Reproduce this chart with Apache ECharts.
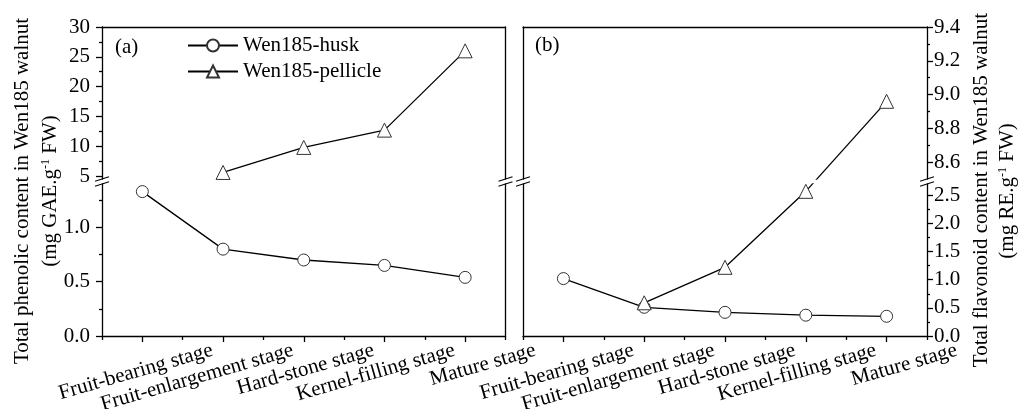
<!DOCTYPE html>
<html><head><meta charset="utf-8">
<script src="https://cdn.jsdelivr.net/npm/echarts@6/dist/echarts.min.js"></script>
<style>html,body{margin:0;padding:0;background:#fff}#c{width:1019px;height:409px}</style>
</head><body><div id="c"></div>
<script>
// ---------------- data ----------------
const stages = ['Fruit-bearing stage', 'Fruit-enlargement stage', 'Hard-stone stage', 'Kernel-filling stage', 'Mature stage'];
const seriesNames = ['Wen185-husk', 'Wen185-pellicle'];
// (a) total phenolic content, mg GAE/g FW
const phenolicHusk = [1.33, 0.80, 0.70, 0.65, 0.54];
const phenolicPellicle = [null, 5.6, 9.8, 12.7, 26.0];
// (b) total flavonoid content, mg RE/g FW
const flavonoidHusk = [1.02, 0.51, 0.42, 0.37, 0.35];
const flavonoidPellicle = [null, 0.59, 1.22, 2.57, 8.96];
// tick labels
const phenolicUpperTicks = [5, 10, 15, 20, 25, 30];
const phenolicUpperMinor = [7.5, 12.5, 17.5, 22.5, 27.5];
const phenolicLowerTicks = [0, 0.5, 1.0];
const phenolicLowerMinor = [0.25, 0.75, 1.25];
const flavonoidUpperTicks = [8.6, 8.8, 9.0, 9.2, 9.4];
const flavonoidUpperMinor = [8.7, 8.9, 9.1, 9.3];
const flavonoidLowerTicks = [0, 0.5, 1.0, 1.5, 2.0, 2.5];
const flavonoidLowerMinor = [0.25, 0.75, 1.25, 1.75, 2.25];
const panelTags = ['(a)', '(b)'];

// ---------------- axis ranges (broken axes) ----------------
const PH_UP = [4.5, 30], PH_LO = [0, 1.4];
const FL_UP = [8.5, 9.4], FL_LO = [0, 2.7];

const FONT = 'Liberation Serif';
const FS = 21;
const BLACK = '#000';
const AX = {color: BLACK, width: 1.3};

const G = {
  lx: 102, lw: 403.5, rx: 523, rw: 404,
  top: 27, upH: 152, loTop: 184, loH: 152, labShift: 70
};

const chart = echarts.init(document.getElementById('c'), null, {renderer: 'canvas'});

function topAxis(grid) {
  return {type: 'category', gridIndex: grid, data: stages, position: 'top', boundaryGap: true,
    axisLine: {show: true, onZero: false, lineStyle: AX}, axisTick: {show: false}, axisLabel: {show: false}, splitLine: {show: false}};
}
function bottomAxis(grid) {
  return {type: 'category', gridIndex: grid, data: stages, position: 'bottom', boundaryGap: true,
    axisLine: {show: true, onZero: false, lineStyle: AX},
    axisTick: {show: true, alignWithLabel: true, interval: 0, length: 6, lineStyle: AX},
    axisLabel: {show: false}, splitLine: {show: false}};
}
function bottomMinorAxis(grid) {
  return {type: 'category', gridIndex: grid, data: stages, position: 'bottom', boundaryGap: true,
    axisLine: {show: false, onZero: false},
    axisTick: {show: true, alignWithLabel: false, interval: 0, length: 4, lineStyle: AX},
    axisLabel: {show: false}, splitLine: {show: false}};
}
function labelAxis(grid) {
  return {type: 'category', gridIndex: grid, data: stages, position: 'bottom', boundaryGap: true,
    axisLine: {show: false, onZero: false}, axisTick: {show: false},
    axisLabel: {show: true, interval: 0, rotate: 16, margin: 14, fontFamily: FONT, fontSize: FS, color: BLACK},
    splitLine: {show: false}};
}
function valAxis(grid, pos, range, ticks, fmt, margin) {
  return {type: 'value', gridIndex: grid, position: pos, min: range[0], max: range[1],
    axisLine: {show: true, onZero: false, lineStyle: AX},
    axisTick: {show: true, length: 6, customValues: ticks, lineStyle: AX},
    axisLabel: {show: true, customValues: ticks, formatter: fmt, margin: margin, fontFamily: FONT, fontSize: FS, color: BLACK},
    splitLine: {show: false}};
}
function minorAxis(grid, pos, range, ticks) {
  return {type: 'value', gridIndex: grid, position: pos, min: range[0], max: range[1],
    axisLine: {show: false, onZero: false},
    axisTick: {show: true, length: 3, customValues: ticks, lineStyle: AX},
    axisLabel: {show: false}, splitLine: {show: false}};
}
function borderAxis(grid, pos, range) {
  return {type: 'value', gridIndex: grid, position: pos, min: range[0], max: range[1],
    axisLine: {show: true, onZero: false, lineStyle: AX},
    axisTick: {show: false}, axisLabel: {show: false}, splitLine: {show: false}};
}
function dummyY(grid) {
  return {type: 'value', gridIndex: grid, show: false, min: 0, max: 1, splitLine: {show: false}};
}
const f0 = v => String(v);
const f1 = v => Number(v).toFixed(1);

function line(name, xi, yi, data, symbol, size) {
  return {type: 'line', name: name, xAxisIndex: xi, yAxisIndex: yi, data: data,
    symbol: symbol, symbolSize: size, showSymbol: true, connectNulls: false,
    lineStyle: {color: BLACK, width: 1.3},
    itemStyle: {color: '#fff', borderColor: '#333', borderWidth: 1},
    emphasis: {disabled: true}, z: 3};
}

const flLower = flavonoidPellicle.map(v => (v != null && v <= FL_LO[1]) ? v : null);
const flUpper = flavonoidPellicle.map(v => (v != null && v >= FL_UP[0]) ? v : null);

const grids = [
  {left: G.lx, top: G.top, width: G.lw, height: G.upH},
  {left: G.lx, top: G.loTop, width: G.lw, height: G.loH},
  {left: G.rx, top: G.top, width: G.rw, height: G.upH},
  {left: G.rx, top: G.loTop, width: G.rw, height: G.loH},
  {left: G.lx + G.labShift, top: G.loTop, width: G.lw, height: G.loH},
  {left: G.rx + G.labShift, top: G.loTop, width: G.rw, height: G.loH}
].map(g => Object.assign(g, {containLabel: false, outerBoundsMode: 'none', show: false}));

const option = {
  animation: false,
  backgroundColor: '#fff',
  grid: grids,
  legend: {
    data: seriesNames, orient: 'vertical', left: 187, top: 35, padding: 0,
    itemWidth: 50, itemHeight: 15, itemGap: 5, selectedMode: false,
    textStyle: {fontFamily: FONT, fontSize: FS, color: BLACK}
  },
  xAxis: [
    topAxis(0), bottomAxis(1), bottomMinorAxis(1),
    topAxis(2), bottomAxis(3), bottomMinorAxis(3),
    labelAxis(4), labelAxis(5)
  ],
  yAxis: [
    valAxis(0, 'left', PH_UP, phenolicUpperTicks, f0, 12), minorAxis(0, 'left', PH_UP, phenolicUpperMinor), borderAxis(0, 'right', PH_UP),
    valAxis(1, 'left', PH_LO, phenolicLowerTicks, f1, 12), minorAxis(1, 'left', PH_LO, phenolicLowerMinor), borderAxis(1, 'right', PH_LO),
    valAxis(2, 'right', FL_UP, flavonoidUpperTicks, f1, 7), minorAxis(2, 'right', FL_UP, flavonoidUpperMinor), borderAxis(2, 'left', FL_UP),
    valAxis(3, 'right', FL_LO, flavonoidLowerTicks, f1, 7), minorAxis(3, 'right', FL_LO, flavonoidLowerMinor), borderAxis(3, 'left', FL_LO),
    dummyY(4), dummyY(5)
  ],
  series: [
    line(seriesNames[0], 1, 3, phenolicHusk, 'circle', 12),
    line(seriesNames[1], 0, 0, phenolicPellicle, 'triangle', 14),
    line(seriesNames[0], 4, 9, flavonoidHusk, 'circle', 12),
    line(seriesNames[1], 4, 9, flLower, 'triangle', 14),
    line(seriesNames[1], 3, 6, flUpper, 'triangle', 14)
  ]
};
chart.setOption(option);

// ---------- decorations: axis names, panel tags, break marks, cross-break connector ----------
const elements = [];
function txt(id, x, y, text, rot, size) {
  elements.push({type: 'text', id: id, x: x, y: y, rotation: rot || 0, z: 20,
    style: {text: text, fontFamily: FONT, fontSize: size || FS, fill: BLACK,
      align: rot ? 'center' : 'left', verticalAlign: 'middle',
      textAlign: rot ? 'center' : 'left', textVerticalAlign: 'middle',
      rich: {sup: {fontFamily: FONT, fontSize: 12, verticalAlign: 'top', fill: BLACK}}}});
}
txt('yl1', 22, 191, 'Total phenolic content in Wen185 walnut', Math.PI / 2, 21);
txt('yl2', 50, 191, '(mg GAE.g{sup|-1} FW)', Math.PI / 2, 21);
txt('yr1', 981, 190, 'Total flavonoid content in Wen185 walnut', Math.PI / 2, 21);
txt('yr2', 1007, 191, '(mg RE.g{sup|-1} FW)', Math.PI / 2, 21);
txt('tagA', 115, 47, panelTags[0], 0, FS);
txt('tagB', 535, 45, panelTags[1], 0, FS);

// hide connector inside the break gap of panel (b)
elements.push({type: 'rect', id: 'gapB', z: 15, shape: {x: G.rx + 1, y: G.top + G.upH + 0.8, width: G.rw - 2, height: G.loTop - G.top - G.upH - 1.6},
  style: {fill: '#fff'}});
// break marks
const breakXs = [G.lx, G.lx + G.lw, G.rx, G.rx + G.rw];
const breakYs = [G.top + G.upH, G.loTop];
breakXs.forEach((bx, i) => breakYs.forEach((by, j) => {
  elements.push({type: 'line', id: 'brk' + i + '_' + j, z: 16,
    shape: {x1: bx - 7, y1: by + 2.2, x2: bx + 7, y2: by - 2.2},
    style: {stroke: BLACK, lineWidth: 1.1}});
}));
// connector from last lower-axis point to first upper-axis point (panel b pellicle)
for (let i = 0; i < flavonoidPellicle.length - 1; i++) {
  if (flLower[i] != null && flUpper[i + 1] != null) {
    const p1 = chart.convertToPixel({seriesIndex: 3}, [i, flLower[i]]);
    const p2 = chart.convertToPixel({seriesIndex: 4}, [i + 1, flUpper[i + 1]]);
    elements.push({type: 'line', id: 'conn' + i, z: 1,
      shape: {x1: p1[0], y1: p1[1], x2: p2[0], y2: p2[1]},
      style: {stroke: BLACK, lineWidth: 1.3}});
  }
}
chart.setOption({graphic: {elements: elements}});
</script>
</body></html>
